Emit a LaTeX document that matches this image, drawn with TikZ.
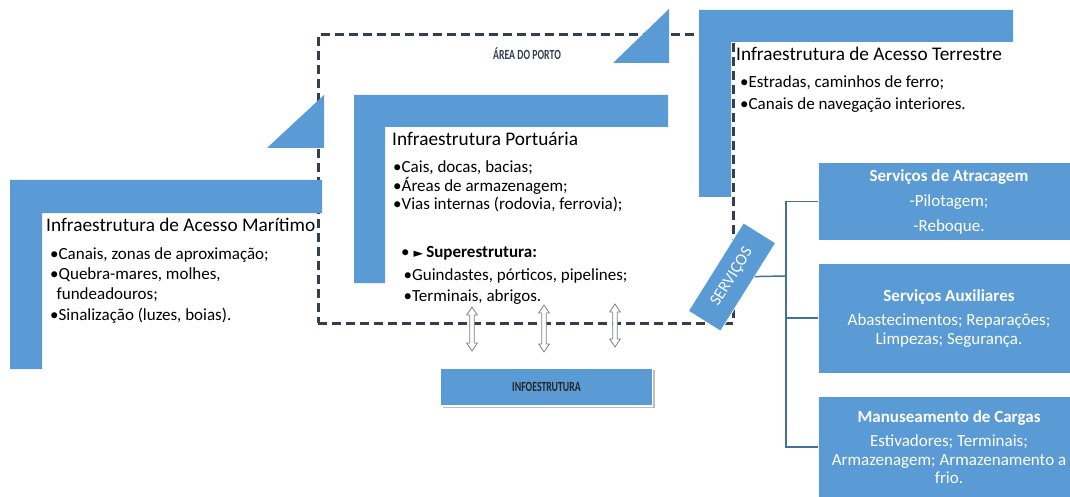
\documentclass[tikz,border=0pt]{standalone}
\usepackage{graphicx}
\usepackage{fontspec}
\setmainfont{Carlito}
\newfontfamily\pointerfont{DejaVu Sans}
\usetikzlibrary{shadows}
\definecolor{officeblue}{HTML}{5B9BD5}
\definecolor{areadash}{HTML}{333F50}
\definecolor{treeline}{HTML}{41719C}
\definecolor{arrowgray}{HTML}{7F7F7F}
\newcommand\bodyfont{\fontsize{17}{18.5}\selectfont}
\newcommand\titlefont{\fontsize{19.3}{22}\selectfont}
\newcommand\narrowcaps[1]{\scalebox{0.7}[1]{\fontsize{14}{16}\selectfont\bfseries #1}}
\begin{document}
\begin{tikzpicture}[x=1pt,y=-1pt,
  lband/.style={fill=officeblue},
  bodyline/.style={anchor=mid west, inner sep=0pt, font=\bodyfont},
  headline/.style={anchor=mid west, inner sep=0pt, font=\titlefont},
  svcbox/.style={rectangle, fill=officeblue, draw=white, line width=1pt,
    minimum width=262pt, text=white, align=center, font=\bodyfont, inner sep=0pt},
  treelink/.style={treeline, line width=1.5pt},
  pics/flowarrow/.style={code={
    \draw[arrowgray, fill=white, line width=0.8pt]
      (0,-#1) -- (5.3,{8-#1}) -- (2.3,{8-#1}) -- (2.3,{#1-8}) -- (5.3,{#1-8})
      -- (0,#1) -- (-5.3,{#1-8}) -- (-2.3,{#1-8}) -- (-2.3,{8-#1})
      -- (-5.3,{8-#1}) -- cycle;}}
]
\clip (0,0) rectangle (1070,497);
\fill[white] (0,0) rectangle (1070,497);

% port area boundary
\node[draw=areadash, line width=3pt, dash pattern=on 9pt off 5pt,
  minimum width=415pt, minimum height=288pt, inner sep=0pt] (porto) at (525.5,179) {};
\node[text=areadash, inner sep=0pt] (portolabel) at (527,54) {\narrowcaps{ÁREA DO PORTO}};

% corner bands
\fill[lband] (10,180) -- (322,180) -- (322,213) -- (42,213) -- (42,369) -- (10,369) -- cycle;
\fill[lband] (354,95) -- (668,95) -- (668,127) -- (385,127) -- (385,283) -- (354,283) -- cycle;
\fill[lband] (699,10) -- (1013,10) -- (1013,42) -- (731,42) -- (731,197) -- (699,197) -- cycle;
\fill[lband] (267,148) -- (324,95) -- (324,148) -- cycle;
\fill[lband] (613,63) -- (669,9) -- (669,63) -- cycle;

% maritime access
\node[headline] (mar) at (46,229) {Infraestrutura de Acesso Marítimo};
\node[bodyline] (mar1) at (50,257) {•Canais, zonas de aproximação;};
\node[bodyline] (mar2) at (50,277) {•Quebra-mares, molhes,};
\node[bodyline] (mar3) at (56.5,297) {fundeadouros;};
\node[bodyline] (mar4) at (50,318) {•Sinalização (luzes, boias).};

% port infrastructure
\node[headline] (por) at (392,143) {Infraestrutura Portuária};
\node[bodyline] (por1) at (393,170) {•Cais, docas, bacias;};
\node[bodyline] (por2) at (393,189) {•Áreas de armazenagem;};
\node[bodyline] (por3) at (393,207) {•Vias internas (rodovia, ferrovia);};
\node[bodyline] (sup) at (401,255) {•\hspace{4pt}{\pointerfont\fontsize{12.5}{14}\selectfont ►}\hspace{3pt}\textbf{Superestrutura:}};
\node[bodyline] (por4) at (403.5,278) {•Guindastes, pórticos, pipelines;};
\node[bodyline] (por5) at (403.5,299) {•Terminais, abrigos.};

% land access
\node[headline] (ter) at (736,58) {Infraestrutura de Acesso Terrestre};
\node[bodyline] (ter1) at (740,85) {•Estradas, caminhos de ferro;};
\node[bodyline] (ter2) at (740,107) {•Canais de navegação interiores.};

% services
\node[svcbox, minimum height=77pt] (atr) at (949,201.5)
  {\textbf{Serviços de Atracagem}\\[6.5pt]-Pilotagem;\\[6.5pt]-Reboque.};
\node[svcbox, minimum height=110pt] (aux) at (949,318)
  {\textbf{Serviços Auxiliares}\\[6pt]Abastecimentos; Reparações;\\Limpezas; Segurança.};
\node[svcbox, minimum height=102pt] (man) at (949,447)
  {\textbf{Manuseamento de Cargas}\\[6pt]Estivadores; Terminais;\\Armazenagem; Armazenamento a\\frio.};

\node[rotate=58, fill=officeblue, draw=white, line width=0.8pt,
  minimum width=104pt, minimum height=38pt, text=white,
  font=\fontsize{16.5}{18}\selectfont, inner sep=0pt] (serv) at (732,277) {SERVIÇOS};
\coordinate (hub) at (786,276);
\draw[treelink] (serv) -- (hub);
\draw[treelink] (hub) |- (atr.west);
\draw[treelink] (hub) |- (aux.west);
\draw[treelink] (hub) |- (man.west);

% infostructure and its links
\pic (f1) at (472,329) {flowarrow=22};
\pic (f2) at (544,328.5) {flowarrow=23.5};
\pic (f3) at (615,325.5) {flowarrow=21.5};
\node[fill=officeblue, draw=white, line width=1.5pt, minimum width=212pt,
  minimum height=38pt, inner sep=0pt, text=black!85,
  drop shadow={shadow xshift=2pt, shadow yshift=-2pt, fill=black!25, opacity=1}]
  (info) at (546.5,387) {\narrowcaps{INFOESTRUTURA}};
\end{tikzpicture}
\end{document}
